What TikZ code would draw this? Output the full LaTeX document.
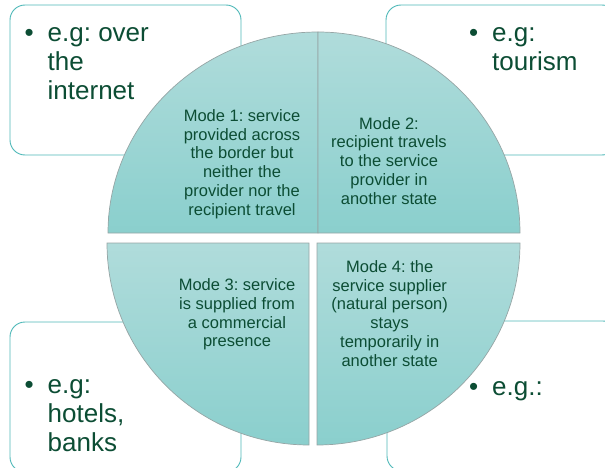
\documentclass[tikz,border=0pt]{standalone}
\usepackage{fontspec}
\setmainfont{Liberation Sans}
\usepackage{tikz}
\definecolor{egteal}{RGB}{78,184,184}
\definecolor{egtext}{RGB}{12,77,52}
\definecolor{quadtop}{RGB}{176,220,219}
\definecolor{quadbot}{RGB}{138,207,205}
\definecolor{quadline}{RGB}{150,165,165}
\newcommand{\bul}{\makebox[23pt][l]{\textbullet}}
\newcommand{\indt}{\hspace*{23pt}}
\frenchspacing

\begin{document}
\begin{tikzpicture}[x=1pt,y=1pt,
    box/.style={draw=egteal, line width=0.9pt, rounded corners=15pt, fill=white},
    quad/.style={draw=quadline, line width=0.7pt, top color=quadtop, bottom color=quadbot},
    modetxt/.style={anchor=base, align=center, inner sep=0pt, text=egtext,
        font=\fontsize{16.5}{18.7}\selectfont},
    egtxt/.style={anchor=base west, align=left, inner sep=0pt, text=egtext,
        font=\fontsize{26}{29}\selectfont}]
    \useasboundingbox (0,0) rectangle (605,467);
    \clip (0,0) rectangle (605,467);

    % Example boxes
    \draw[box] (10,312) rectangle (241,462);
    \draw[box] (386,312) rectangle (617,462);
    \draw[box] (10,145) rectangle (241,-5);
    \draw[box] (387,146) rectangle (618,-4);

    % Mode 1
    \draw[quad] (318,234) -- (108,234) arc[start angle=180, end angle=90, x radius=210, y radius=201] -- cycle;
    % Mode 2
    \draw[quad] (318,234) -- (318,435) arc[start angle=90, end angle=0, x radius=202, y radius=201] -- cycle;
    % Mode 3
    \draw[quad] (309,224) -- (107,224) arc[start angle=180, end angle=270, radius=202] -- cycle;
    % Mode 4
    \draw[quad] (317,224) -- (520,224) arc[start angle=0, end angle=-90, x radius=203, y radius=202] -- cycle;

    % Mode texts (anchored at the last line)
    \node[modetxt] (m1) at (242,252) {Mode 1: service\\provided across\\the border but\\neither the\\provider nor the\\recipient travel};
    \node[modetxt] (m2) at (389,263) {Mode 2:\\recipient travels\\to the service\\provider in\\another state};
    \node[modetxt] (m3) at (237,120.3) {Mode 3: service\\is supplied from\\a commercial\\presence};
    \node[modetxt] (m4) at (389.7,101) {Mode 4: the\\service supplier\\(natural person)\\stays\\temporarily in\\another state};

    % Examples
    \node[egtxt] (eg1) at (24.5,367.3) {\bul e.g: over\\\indt the\\\indt internet};
    \node[egtxt] (eg2) at (469,396.3) {\bul e.g:\\\indt tourism};
    \node[egtxt] (eg3) at (24.5,15.3) {\bul e.g:\\\indt hotels,\\\indt banks};
    \node[egtxt] (eg4) at (469,71.3) {\bul e.g.:};

\end{tikzpicture}
\end{document}
